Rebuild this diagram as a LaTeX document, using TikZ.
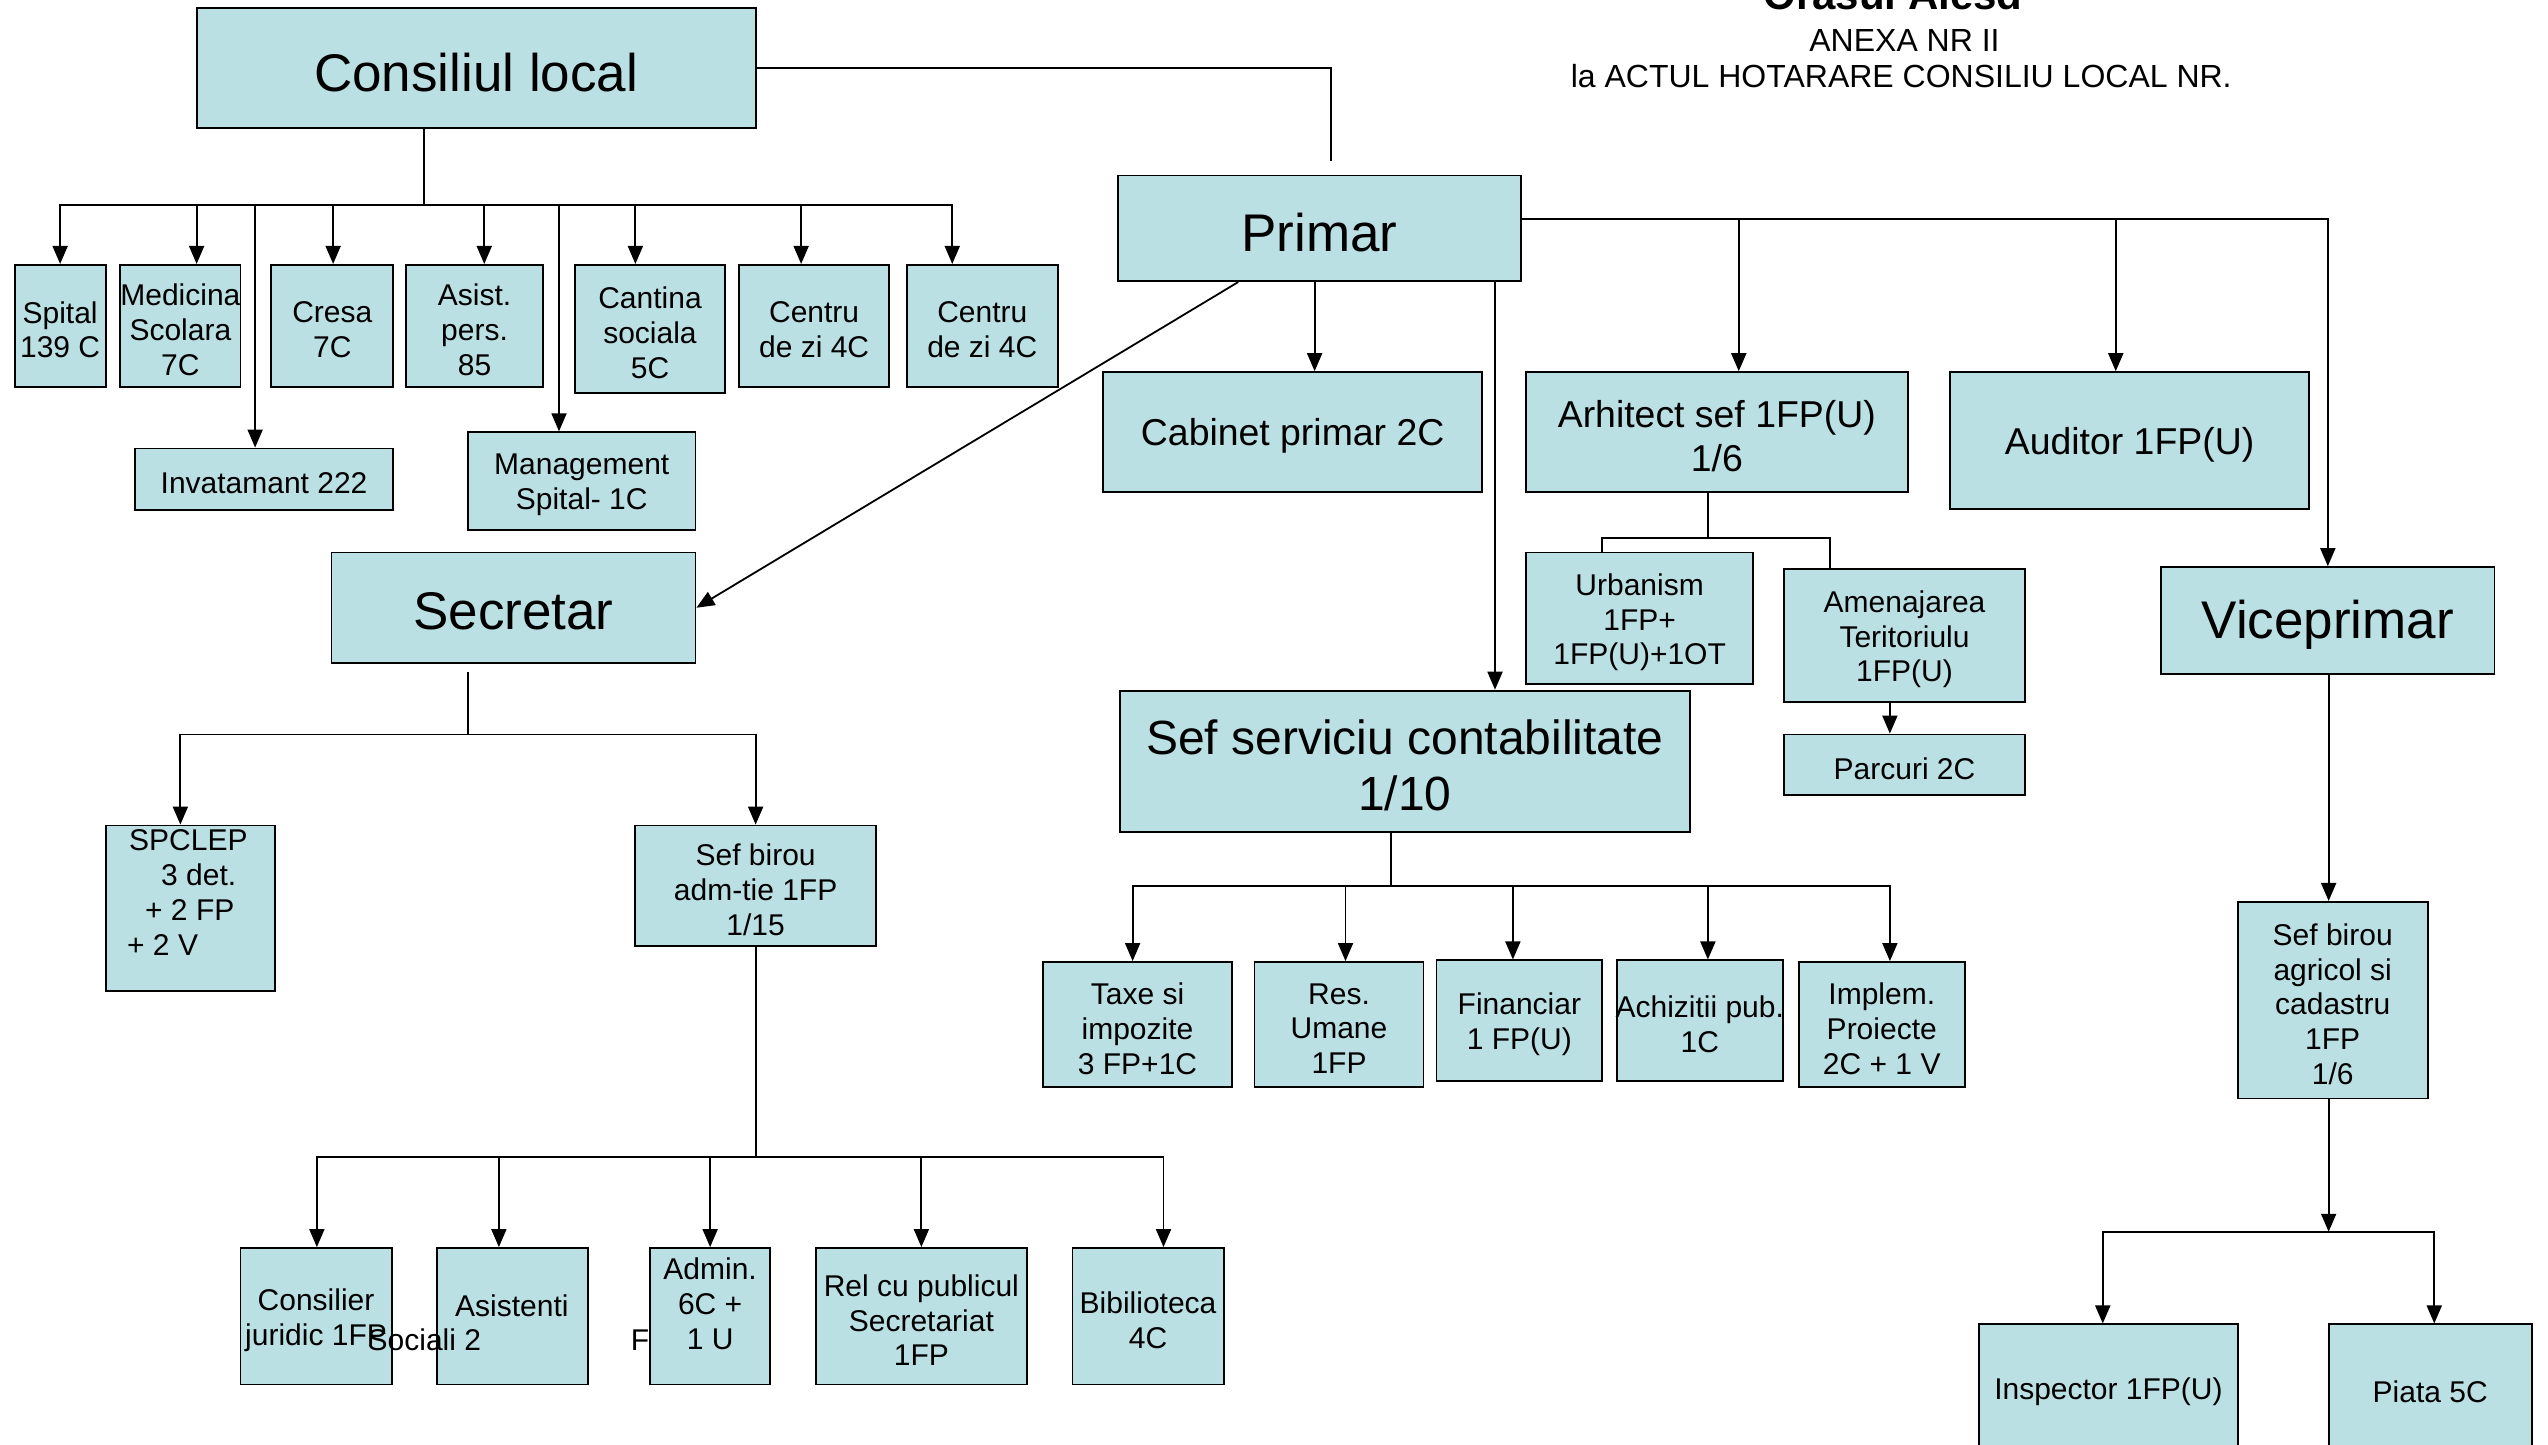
\documentclass[tikz,border=0pt]{standalone}
\usepackage{fontspec}
\setmainfont{Liberation Sans}
\usetikzlibrary{arrows.meta,calc}
\definecolor{boxfill}{RGB}{187,224,227}
\newcommand\fsmall{\fontsize{15}{17.4}\selectfont}
\newcommand\fmid{\fontsize{18.7}{22}\selectfont}
\newcommand\fsef{\fontsize{24}{27.6}\selectfont}
\newcommand\fbig{\fontsize{26.5}{30}\selectfont}
% box node (#1) with corners (#2,#3)-(#4,#5); text node (#1-txt) with options #6 and text #7
\newcommand\mybox[7]{%
  \node[box,minimum width={(#4-#2)*0.8125pt},minimum height={(#5-#3)*0.8125pt}] (#1) at ({(#2+#4)/2},{(#3+#5)/2}) {};
  \node[txt,#6] (#1-txt) at ([yshift=-2pt]#1.center) {#7};}
\tikzset{
  box/.style={draw=black,line width=0.9pt,fill=boxfill,inner sep=0pt},
  txt/.style={inner sep=0pt,align=center,font=\fsmall},
  ln/.style={line width=0.9pt},
  arr/.style={line width=0.9pt,-{Triangle[width=7.5pt,length=9pt]}},
}
\begin{document}
\begin{tikzpicture}[x=0.8125pt,y=-0.8125pt]
\useasboundingbox (0,0) rectangle (1568,889);
\clip (0,0) rectangle (1568,889);

% titles
\node[inner sep=0pt,anchor=base,font=\bfseries\fontsize{21}{24}\selectfont] (t0) at (1165,6) {Orasul Alesd};
\node[inner sep=0pt,anchor=base,font=\fontsize{16}{19}\selectfont] (t1) at (1172,31.5) {ANEXA NR II};
\node[inner sep=0pt,anchor=base,font=\fontsize{16}{19}\selectfont] (t2) at (1170,54) {la ACTUL HOTARARE CONSILIU LOCAL NR.};

% top level
\mybox{cl}{121}{5}{465}{79}{font=\fbig}{Consiliul local}
\mybox{primar}{688}{108}{936}{173}{font=\fbig}{Primar}

% consiliul children
\mybox{spital}{9}{163}{65}{238}{}{Spital\\139 C}
\mybox{med}{74}{163}{148}{238}{}{Medicina\\Scolara\\7C}
\mybox{cresa}{167}{163}{242}{238}{}{Cresa\\7C}
\mybox{asistpers}{250}{163}{334}{238}{}{Asist.\\pers.\\85}
\mybox{cantina}{354}{163}{446}{242}{}{Cantina\\sociala\\5C}
\mybox{centrua}{455}{163}{547}{238}{}{Centru\\de zi 4C}
\mybox{centrub}{558}{163}{651}{238}{}{Centru\\de zi 4C}
\mybox{inv}{83}{276}{242}{314}{}{Invatamant 222}
\mybox{mgmt}{288}{266}{428}{326}{}{Management\\Spital- 1C}

% primar children
\mybox{cab}{679}{229}{912}{303}{font=\fmid}{Cabinet primar 2C}
\mybox{arh}{939}{229}{1174}{303}{font=\fmid}{Arhitect sef 1FP(U)\\1/6}
\mybox{aud}{1200}{229}{1421}{313}{font=\fmid}{Auditor 1FP(U)}
\mybox{vice}{1330}{349}{1535}{415}{font=\fbig}{Viceprimar}
\mybox{urb}{939}{340}{1079}{421}{}{Urbanism\\1FP+\\1FP(U)+1OT}
\mybox{amen}{1098}{350}{1246}{432}{}{Amenajarea\\Teritoriulu\\1FP(U)}
\mybox{parc}{1098}{452}{1246}{489}{}{Parcuri 2C}
\mybox{sef}{689}{425}{1040}{512}{font=\fsef}{Sef serviciu contabilitate\\1/10}

% contabilitate children
\mybox{taxe}{642}{592}{758}{669}{}{Taxe si\\impozite\\3 FP+1C}
\mybox{res}{772}{592}{876}{669}{}{Res.\\Umane\\1FP}
\mybox{fin}{884}{591}{986}{665}{}{Financiar\\1 FP(U)}
\mybox{ach}{995}{591}{1097}{665}{}{Achizitii pub.\\1C}
\mybox{impl}{1107}{592}{1209}{669}{}{Implem.\\Proiecte\\2C + 1 V}

% secretar
\mybox{sec}{204}{340}{428}{408}{font=\fbig}{Secretar}
\mybox{spclep}{65}{508}{169}{610}{}{}
\node[txt,align=left,anchor=north west] (spcleptext) at (78,510.5) {\hspace*{1pt}SPCLEP\\\hspace*{17pt}3 det.\\\hspace*{9pt}+ 2 FP\\+ 2 V};
\mybox{sefb}{391}{508}{539}{582}{}{Sef birou\\adm-tie 1FP\\1/15}
\mybox{cons}{148}{768}{241}{852}{}{Consilier\\juridic 1FP}
\mybox{asistenti}{269}{768}{362}{852}{}{}
\node[txt] (asistA) at (315,803.5) {Asistenti};
\node[txt,anchor=west] (asistB) at (226,824.5) {Sociali 2};
\node[txt,anchor=west] (asistC) at (388,824.5) {F};
\mybox{admin}{400}{768}{474}{852}{}{}
\node[txt] (admintext) at (437,802.5) {Admin.\\6C +\\1 U};
\mybox{rel}{502}{768}{632}{852}{}{Rel cu publicul\\Secretariat\\1FP}
\mybox{bib}{660}{768}{753}{852}{}{Bibilioteca\\4C}

% viceprimar
\mybox{agr}{1377}{555}{1494}{676}{}{Sef birou\\agricol si\\cadastru\\1FP\\1/6}
\mybox{insp}{1218}{815}{1377}{893}{}{Inspector 1FP(U)}
\mybox{piata}{1433}{815}{1558}{893}{}{Piata 5C}

% ---- connectors ----
% consiliul local
\coordinate (cbus) at (261,126);
\draw[ln] (261,0 |- cl.south) -- (cbus);
\draw[arr] (cbus) -| (37,0 |- spital.north);
\draw[arr] (cbus) -| (121,0 |- med.north);
\draw[arr] (cbus) -| (157,0 |- inv.north);
\draw[arr] (cbus) -| (205,0 |- cresa.north);
\draw[arr] (cbus) -| (298,0 |- asistpers.north);
\draw[arr] (cbus) -| (344,0 |- mgmt.north);
\draw[arr] (cbus) -| (391,0 |- cantina.north);
\draw[arr] (cbus) -| (493,0 |- centrua.north);
\draw[arr] (cbus) -| (586,0 |- centrub.north);
\draw[ln,shorten >=7pt] (cl.east) -| (819,0 |- primar.north);

% primar
\coordinate (pbus) at (936,135);
\draw[arr,shorten <=3pt] (pbus) -| (vice.north);
\draw[arr] (pbus) -| (1070,0 |- arh.north);
\draw[arr] (pbus) -| (1302,0 |- aud.north);
\draw[arr] (809,0 |- primar.south) -- (809,0 |- cab.north);
\draw[arr] (920,0 |- primar.south) -- (920,0 |- sef.north);
\draw[arr] (762,0 |- primar.south) -- (sec.east);

% arhitect
\coordinate (abus) at (1051,331);
\draw[ln] (1051,0 |- arh.south) -- (abus);
\draw[ln] (abus) -| (986,0 |- urb.north);
\draw[ln] (abus) -| (1126,0 |- amen.north);
\draw[arr] (1163,0 |- amen.south) -- (1163,0 |- parc.north);

% contabilitate
\coordinate (kbus) at (856,545);
\draw[ln] (856,0 |- sef.south) -- (kbus);
\draw[arr] (kbus) -| (697,0 |- taxe.north);
\draw[arr] (kbus) -| (828,0 |- res.north);
\draw[arr] (kbus) -| (931,0 |- fin.north);
\draw[arr] (kbus) -| (1051,0 |- ach.north);
\draw[arr] (kbus) -| (1163,0 |- impl.north);

% secretar
\coordinate (sbus) at (288,452);
\draw[ln,shorten <=4pt] (288,0 |- sec.south) -- (sbus);
\draw[arr] (sbus) -| (111,0 |- spclep.north);
\draw[arr] (sbus) -| (sefb.north);
\coordinate (bbus) at (465,712);
\draw[ln] (sefb.south) -- (bbus);
\draw[arr] (bbus) -| (195,0 |- cons.north);
\draw[arr] (bbus) -| (307,0 |- asistenti.north);
\draw[arr] (bbus) -| (437,0 |- admin.north);
\draw[arr] (bbus) -| (567,0 |- rel.north);
\draw[arr] (bbus) -| (716,0 |- bib.north);

% viceprimar
\draw[arr] (1433,0 |- vice.south) -- (1433,0 |- agr.north);
\coordinate (gbus) at (1433,758);
\draw[arr] (1433,0 |- agr.south) -- (gbus);
\draw[arr] (gbus) -| (1294,0 |- insp.north);
\draw[arr] (gbus) -| (1498,0 |- piata.north);
\end{tikzpicture}
\end{document}
